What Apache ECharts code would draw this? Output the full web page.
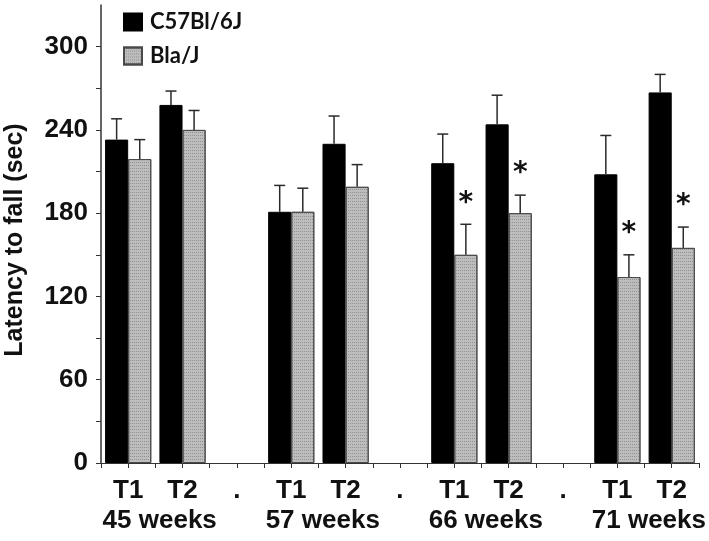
<!DOCTYPE html>
<html>
<head>
<meta charset="utf-8">
<script src="https://cdn.jsdelivr.net/npm/echarts@6/dist/echarts.min.js"></script>
<style>
  html, body { margin: 0; padding: 0; background: #fff; }
  #chart-container { width: 709px; height: 541px; }
</style>
</head>
<body>
<div id="chart-container"></div>
<script>
// categorias y valores
const categorias = ['T1', 'T2', '.', 'T1', 'T2', '.', 'T1', 'T2', '.', 'T1', 'T2'];
const c57Media = [233, 258, '-', 181, 230, '-', 216, 244, '-', 208, 267];
const c57Error = [15, 10, '-', 19, 20, '-', 21, 21, '-', 28, 13];
const blaMedia = [219, 240, '-', 181, 199, '-', 150, 180, '-', 134, 155];
const blaError = [14, 14, '-', 17, 16, '-', 22, 13, '-', 16, 15];
const blaAsterisco = [0, 0, 0, 0, 0, 0, 1, 1, 0, 1, 1];
const semanas = ['45 weeks', '57 weeks', '66 weeks', '71 weeks'];
const posSemanas = [1.08, 4.08, 7.08, 10.08];
const posTicksX = [0, 0.5, 1, 1.5, 2, 2.5, 3, 3.5, 4, 4.5, 5, 5.5, 6, 6.5, 7, 7.5, 8, 8.5, 9, 9.5, 10, 10.5, 11];
const ticksY = [0, 60, 120, 180, 240, 300];

const FUENTE = '"Liberation Sans", Arial, sans-serif';

let myChart = echarts.init(document.getElementById('chart-container'), null, {
  renderer: 'canvas'
});

function datosError(medias, errores, asteriscos) {
  const out = [];
  medias.forEach((m, i) => {
    if (m === '-') return;
    out.push([i, m, m + errores[i], asteriscos ? asteriscos[i] : 0]);
  });
  return out;
}

function renderError(lado) {
  return function (params, api) {
    const idx = api.value(0);
    const base = api.coord([idx, api.value(1)]);
    const tope = api.coord([idx, api.value(2)]);
    const anchoCat = api.size([1, 0])[0];
    const x = base[0] + lado * anchoCat * 0.85 / 4;
    const hijos = [
      { type: 'line', shape: { x1: x, y1: base[1], x2: x, y2: tope[1] },
        style: { stroke: '#2a2a2a', lineWidth: 1.5 } },
      { type: 'line', shape: { x1: x - 5.5, y1: tope[1], x2: x + 5.5, y2: tope[1] },
        style: { stroke: '#2a2a2a', lineWidth: 1.5 } }
    ];
    if (api.value(3) === 1) {
      hijos.push({
        type: 'text',
        x: x,
        y: tope[1] - 21,
        style: {
          text: '*', fill: '#111', align: 'center', verticalAlign: 'middle',
          font: 'bold 28px "DejaVu Sans", sans-serif'
        }
      });
    }
    return { type: 'group', children: hijos };
  };
}

const opciones = {
  animation: false,
  grid: { left: 101, right: 10, top: 5, bottom: 78, containLabel: false },
  legend: {
    orient: 'vertical',
    left: 118,
    top: 6,
    icon: 'rect',
    itemWidth: 18,
    itemHeight: 17,
    itemGap: 12,
    data: ['C57Bl/6J', 'Bla/J'],
    textStyle: { fontFamily: 'Lato, sans-serif', fontWeight: 'bold', fontSize: 22, color: '#111', padding: [0, 0, 0, 3] }
  },
  graphic: [{
    type: 'text',
    x: 15,
    y: 240,
    rotation: Math.PI / 2,
    style: {
      text: 'Latency to fall (sec)', fill: '#111', align: 'center', verticalAlign: 'middle',
      font: 'bold 25px ' + FUENTE
    }
  }],
  xAxis: [{
    type: 'category',
    data: categorias,
    axisLine: { lineStyle: { color: '#333', width: 1 } },
    axisTick: { show: false },
    axisLabel: { interval: 0, margin: 15, fontSize: 26, fontWeight: 'bold', fontFamily: FUENTE, color: '#111' }
  }, {
    type: 'value',
    position: 'bottom',
    min: 0,
    max: 11,
    splitLine: { show: false },
    axisLine: { show: false },
    axisTick: { show: true, length: 5, customValues: posTicksX, lineStyle: { color: '#333' } },
    axisLabel: {
      customValues: posSemanas,
      margin: 45,
      fontSize: 26, fontWeight: 'bold', fontFamily: FUENTE, color: '#111',
      formatter: (v) => semanas[posSemanas.indexOf(v)]
    }
  }],
  yAxis: {
    type: 'value',
    min: 0,
    max: 330,
    interval: 60,
    splitLine: { show: false },
    axisLine: { show: true, lineStyle: { color: '#333', width: 1.5 } },
    axisTick: { show: true, length: 5, customValues: ticksY, lineStyle: { color: '#333' } },
    minorTick: { show: true, splitNumber: 2, length: 5, lineStyle: { color: '#333' } },
    axisLabel: {
      customValues: ticksY,
      margin: 13, fontSize: 26, fontWeight: 'bold', fontFamily: FUENTE, color: '#111'
    }
  },
  series: [{
    name: 'C57Bl/6J',
    type: 'bar',
    data: c57Media,
    barGap: '0%',
    barCategoryGap: '15%',
    itemStyle: { color: '#000', borderColor: '#000', borderWidth: 1 }
  }, {
    name: 'Bla/J',
    type: 'bar',
    data: blaMedia,
    barGap: '0%',
    barCategoryGap: '15%',
    itemStyle: {
      color: '#bdbdbd',
      borderColor: '#4a4a4a',
      borderWidth: 1,
      decal: {
        symbol: 'rect',
        symbolSize: 1,
        dashArrayX: [[1, 1]],
        dashArrayY: [1, 2],
        color: 'rgba(110,110,110,0.55)'
      }
    }
  }, {
    type: 'custom',
    renderItem: renderError(-1),
    data: datosError(c57Media, c57Error),
    z: 5,
    silent: true
  }, {
    type: 'custom',
    renderItem: renderError(1),
    data: datosError(blaMedia, blaError, blaAsterisco),
    z: 5,
    silent: true
  }]
};

myChart.setOption(opciones);
window.addEventListener('resize', myChart.resize);
</script>
</body>
</html>
